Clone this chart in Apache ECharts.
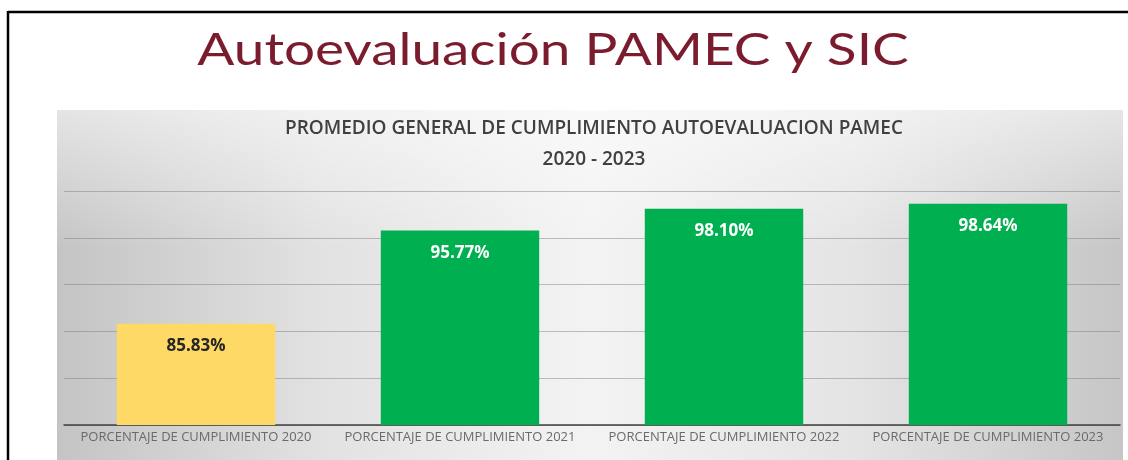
<!DOCTYPE html>
<html>
<head>
<meta charset="utf-8">
<script src="https://cdn.jsdelivr.net/npm/echarts@6/dist/echarts.min.js"></script>
<style>
  html, body { margin: 0; padding: 0; background: #ffffff; }
  #chart { width: 1128px; height: 460px; }
</style>
</head>
<body>
<div id="chart"></div>
<script>
// Compliance percentages per year
const categories = [
  'PORCENTAJE DE CUMPLIMIENTO 2020',
  'PORCENTAJE DE CUMPLIMIENTO 2021',
  'PORCENTAJE DE CUMPLIMIENTO 2022',
  'PORCENTAJE DE CUMPLIMIENTO 2023'
];
const values = [85.83, 95.77, 98.10, 98.64];
const barColors = ['#FFD966', '#00B050', '#00B050', '#00B050'];
const labelColors = ['#262626', '#ffffff', '#ffffff', '#ffffff'];

const chart = echarts.init(document.getElementById('chart'));

chart.setOption({
  animation: false,
  graphic: [
    // slide frame
    { type: 'line', shape: { x1: 8, y1: 12, x2: 1128, y2: 12 }, style: { stroke: '#000', lineWidth: 2.5 }, z: -5 },
    { type: 'line', shape: { x1: 8, y1: 11, x2: 8, y2: 460 }, style: { stroke: '#000', lineWidth: 2.5 }, z: -5 },
    // chart panel background
    {
      type: 'rect', z: -10,
      shape: { x: 57, y: 110, width: 1066, height: 360 },
      style: {
        fill: {
          type: 'linear', x: 0, y: 0, x2: 1, y2: 0,
          colorStops: [
            { offset: 0, color: '#c4c4c4' },
            { offset: 0.25, color: '#e2e2e2' },
            { offset: 0.5, color: '#f3f3f3' },
            { offset: 0.75, color: '#e4e4e4' },
            { offset: 1, color: '#c6c6c6' }
          ]
        }
      }
    },
    // lighter sheen along the top of the panel
    {
      type: 'rect', z: -9,
      shape: { x: 57, y: 110, width: 1066, height: 140 },
      style: {
        fill: {
          type: 'linear', x: 0, y: 0, x2: 0, y2: 1,
          colorStops: [
            { offset: 0, color: 'rgba(255,255,255,0.55)' },
            { offset: 1, color: 'rgba(255,255,255,0)' }
          ]
        }
      }
    },
    // slide heading, slightly widened
    {
      type: 'text', z: 5,
      x: 553, y: 50, scaleX: 1.22,
      style: {
        text: 'Autoevaluación PAMEC y SIC',
        x: 0, y: 0,
        align: 'center',
        verticalAlign: 'middle',
        font: '45px Lato, "Open Sans", sans-serif',
        fill: '#7B1C2E'
      }
    },
    {
      type: 'text', z: 5,
      style: {
        text: 'PROMEDIO GENERAL DE CUMPLIMIENTO AUTOEVALUACION PAMEC\n2020 - 2023',
        x: 594, y: 113,
        align: 'center',
        font: '600 19px "Open Sans", sans-serif',
        lineHeight: 31,
        fill: '#404040'
      }
    }
  ],
  grid: { left: 64, right: 8, top: 191, bottom: 35 },
  xAxis: {
    type: 'category',
    data: categories,
    axisLine: { lineStyle: { color: '#404040', width: 1.5 } },
    axisTick: { show: false },
    axisLabel: {
      color: '#6a6a6a',
      fontSize: 13,
      fontFamily: 'Open Sans',
      margin: 6,
      interval: 0
    }
  },
  yAxis: {
    type: 'value',
    min: 75,
    max: 100,
    interval: 5,
    axisLabel: { show: false },
    axisLine: { show: false },
    axisTick: { show: false },
    splitLine: { lineStyle: { color: 'rgba(120,120,120,0.45)', width: 1 } }
  },
  series: [{
    type: 'bar',
    barWidth: '60%',
    data: values.map((v, i) => ({
      value: v,
      itemStyle: { color: barColors[i] },
      label: { color: labelColors[i] }
    })),
    label: {
      show: true,
      position: 'insideTop',
      distance: 14,
      fontSize: 17,
      fontWeight: 'bold',
      fontFamily: 'Open Sans',
      formatter: p => p.value.toFixed(2) + '%'
    }
  }]
});
</script>
</body>
</html>
